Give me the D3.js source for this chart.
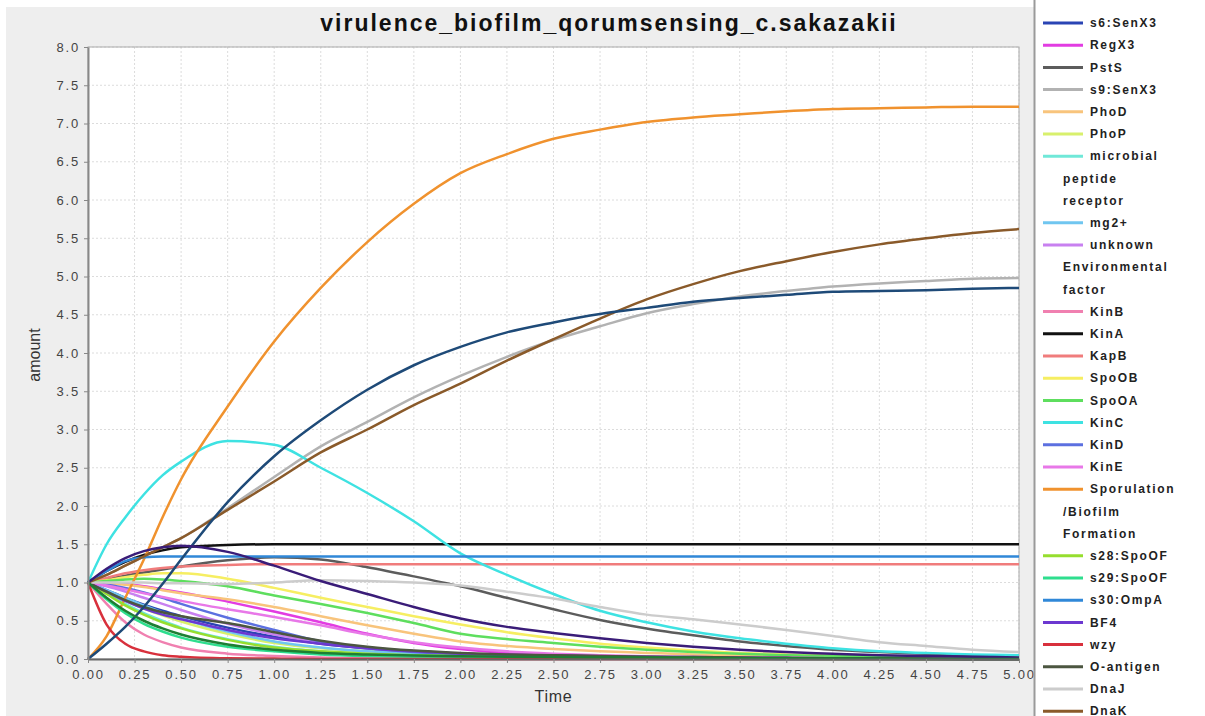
<!DOCTYPE html>
<html>
<head>
<meta charset="utf-8">
<script src="https://cdn.jsdelivr.net/npm/d3@7"></script>
<style>
  body { margin: 0; background: #ffffff; }
  text { font-family: "Liberation Sans", Arial, sans-serif; }
  .tick text { font-size: 13px; fill: #444; letter-spacing: 1.8px; }
  .legend text { font-size: 12px; font-weight: bold; fill: #222; letter-spacing: 1.7px; }
</style>
</head>
<body>
<svg id="chart" width="1205" height="716"></svg>
<script>
var width = 1205, height = 716;

// time points of the simulation output
var times = [0, 0.1, 0.2, 0.3, 0.4, 0.5, 0.75, 1.0, 1.25, 1.5, 1.75, 2.0, 2.25, 2.5, 2.75, 3.0, 3.25, 3.5, 3.75, 4.0, 4.25, 4.5, 4.75, 5.0];
var xTicks = [0, 0.25, 0.5, 0.75, 1, 1.25, 1.5, 1.75, 2, 2.25, 2.5, 2.75, 3, 3.25, 3.5, 3.75, 4, 4.25, 4.5, 4.75, 5];
var yTicks = [0, 0.5, 1, 1.5, 2, 2.5, 3, 3.5, 4, 4.5, 5, 5.5, 6, 6.5, 7, 7.5, 8];

var s6SenX3   = [1, 0.9, 0.8, 0.71, 0.63, 0.56, 0.41, 0.29, 0.2, 0.14, 0.1, 0.07, 0.05, 0.035, 0.025, 0.02, 0.015, 0.01, 0.01, 0.005, 0.005, 0, 0, 0];
var regX3     = [1, 1.0, 0.98, 0.95, 0.91, 0.87, 0.75, 0.62, 0.48, 0.33, 0.21, 0.13, 0.08, 0.05, 0.03, 0.02, 0.015, 0.01, 0.01, 0.005, 0, 0, 0, 0];
var pstS      = [1, 1.04, 1.09, 1.13, 1.17, 1.21, 1.29, 1.33, 1.3, 1.2, 1.08, 0.95, 0.8, 0.65, 0.51, 0.4, 0.31, 0.23, 0.17, 0.12, 0.09, 0.07, 0.05, 0.04];
var s9SenX3   = [1, 1.1, 1.22, 1.34, 1.46, 1.58, 1.97, 2.38, 2.78, 3.1, 3.42, 3.7, 3.95, 4.17, 4.35, 4.52, 4.64, 4.74, 4.81, 4.87, 4.91, 4.94, 4.97, 4.98];
var phoD      = [1, 0.99, 0.97, 0.94, 0.9, 0.86, 0.78, 0.68, 0.56, 0.44, 0.33, 0.23, 0.17, 0.13, 0.1, 0.08, 0.06, 0.05, 0.04, 0.03, 0.025, 0.02, 0.015, 0.01];
var phoP      = [1, 0.88, 0.76, 0.66, 0.57, 0.49, 0.33, 0.21, 0.14, 0.1, 0.08, 0.06, 0.05, 0.04, 0.03, 0.025, 0.02, 0.015, 0.01, 0.01, 0.005, 0, 0, 0];
var microbial = [1, 0.86, 0.72, 0.6, 0.5, 0.41, 0.26, 0.16, 0.1, 0.07, 0.05, 0.035, 0.025, 0.02, 0.015, 0.01, 0.01, 0.005, 0, 0, 0, 0, 0, 0];
var mg2       = [1, 0.9, 0.8, 0.7, 0.61, 0.53, 0.36, 0.23, 0.15, 0.1, 0.07, 0.05, 0.035, 0.025, 0.02, 0.015, 0.01, 0.01, 0.005, 0, 0, 0, 0, 0];
var unknownEnv = [1, 0.95, 0.88, 0.8, 0.72, 0.64, 0.46, 0.32, 0.22, 0.15, 0.1, 0.07, 0.05, 0.035, 0.025, 0.02, 0.015, 0.01, 0.005, 0, 0, 0, 0, 0];
var kinB      = [1, 0.72, 0.48, 0.32, 0.22, 0.15, 0.07, 0.04, 0.02, 0.01, 0.01, 0, 0, 0, 0, 0, 0, 0, 0, 0, 0, 0, 0, 0];
var kinA      = [1, 1.15, 1.27, 1.36, 1.42, 1.46, 1.49, 1.5, 1.5, 1.5, 1.5, 1.5, 1.5, 1.5, 1.5, 1.5, 1.5, 1.5, 1.5, 1.5, 1.5, 1.5, 1.5, 1.5];
var kapB      = [1, 1.06, 1.12, 1.16, 1.19, 1.21, 1.23, 1.24, 1.24, 1.24, 1.24, 1.24, 1.24, 1.24, 1.24, 1.24, 1.24, 1.24, 1.24, 1.24, 1.24, 1.24, 1.24, 1.24];
var spoOB     = [1, 1.03, 1.07, 1.1, 1.12, 1.12, 1.05, 0.93, 0.8, 0.68, 0.56, 0.45, 0.35, 0.27, 0.2, 0.15, 0.11, 0.08, 0.06, 0.05, 0.04, 0.03, 0.02, 0.02];
var spoOA     = [1, 1.02, 1.04, 1.05, 1.04, 1.02, 0.95, 0.83, 0.72, 0.6, 0.47, 0.33, 0.26, 0.21, 0.16, 0.12, 0.09, 0.07, 0.05, 0.04, 0.03, 0.02, 0.02, 0.01];
var kinC      = [1, 1.5, 1.85, 2.15, 2.4, 2.58, 2.85, 2.8, 2.5, 2.17, 1.8, 1.38, 1.1, 0.85, 0.63, 0.48, 0.36, 0.27, 0.2, 0.14, 0.1, 0.08, 0.06, 0.05];
var kinD      = [1, 0.97, 0.93, 0.87, 0.8, 0.72, 0.54, 0.38, 0.23, 0.14, 0.09, 0.06, 0.04, 0.03, 0.02, 0.015, 0.01, 0.005, 0, 0, 0, 0, 0, 0];
var kinE      = [1, 0.96, 0.91, 0.86, 0.81, 0.76, 0.65, 0.55, 0.44, 0.32, 0.22, 0.15, 0.1, 0.07, 0.05, 0.035, 0.025, 0.02, 0.015, 0.01, 0.005, 0, 0, 0];
var sporulation = [0, 0.3, 0.8, 1.3, 1.85, 2.35, 3.3, 4.15, 4.85, 5.45, 5.95, 6.35, 6.6, 6.8, 6.92, 7.02, 7.08, 7.12, 7.16, 7.19, 7.2, 7.21, 7.22, 7.22];
var s28SpoOF  = [1, 0.85, 0.7, 0.58, 0.48, 0.4, 0.25, 0.15, 0.1, 0.07, 0.05, 0.04, 0.03, 0.025, 0.02, 0.015, 0.01, 0.01, 0.005, 0, 0, 0, 0, 0];
var s29SpoOF  = [1, 0.78, 0.6, 0.46, 0.36, 0.28, 0.16, 0.1, 0.06, 0.04, 0.03, 0.02, 0.015, 0.01, 0.01, 0.005, 0, 0, 0, 0, 0, 0, 0, 0];
var s30OmpA   = [1, 1.15, 1.28, 1.33, 1.34, 1.34, 1.34, 1.34, 1.34, 1.34, 1.34, 1.34, 1.34, 1.34, 1.34, 1.34, 1.34, 1.34, 1.34, 1.34, 1.34, 1.34, 1.34, 1.34];
var bf4       = [1, 0.88, 0.76, 0.66, 0.58, 0.52, 0.38, 0.27, 0.2, 0.14, 0.1, 0.07, 0.055, 0.045, 0.035, 0.03, 0.025, 0.02, 0.015, 0.01, 0.01, 0.005, 0, 0];
var wzy       = [1, 0.45, 0.2, 0.1, 0.05, 0.03, 0.01, 0.005, 0, 0, 0, 0, 0, 0, 0, 0, 0, 0, 0, 0, 0, 0, 0, 0];
var oAntigen  = [1, 0.88, 0.77, 0.68, 0.61, 0.56, 0.47, 0.35, 0.24, 0.16, 0.11, 0.08, 0.06, 0.05, 0.04, 0.03, 0.025, 0.02, 0.015, 0.01, 0.01, 0.005, 0, 0];
var dnaJ      = [1, 1.0, 1.0, 1.0, 0.99, 0.99, 0.98, 1.0, 1.03, 1.02, 1.0, 0.96, 0.88, 0.79, 0.68, 0.58, 0.52, 0.45, 0.38, 0.3, 0.22, 0.17, 0.12, 0.09];
var dnaK      = [1, 1.1, 1.22, 1.34, 1.46, 1.58, 1.95, 2.32, 2.7, 3.0, 3.32, 3.6, 3.9, 4.18, 4.45, 4.7, 4.9, 5.07, 5.2, 5.32, 5.42, 5.5, 5.57, 5.62];
// series below the visible part of the legend
var extraNavy   = [0, 0.2, 0.42, 0.68, 0.98, 1.3, 2.05, 2.65, 3.12, 3.52, 3.84, 4.08, 4.27, 4.4, 4.51, 4.59, 4.67, 4.72, 4.76, 4.8, 4.81, 4.82, 4.84, 4.85];
var extraIndigo = [1, 1.18, 1.32, 1.41, 1.46, 1.48, 1.4, 1.22, 1.02, 0.85, 0.68, 0.53, 0.42, 0.34, 0.27, 0.21, 0.16, 0.12, 0.09, 0.07, 0.05, 0.04, 0.03, 0.02];
var extraGreen  = [1, 0.8, 0.63, 0.5, 0.4, 0.32, 0.19, 0.12, 0.08, 0.06, 0.045, 0.035, 0.03, 0.025, 0.02, 0.02, 0.015, 0.01, 0.01, 0.005, 0.005, 0, 0, 0];

var seriesNames = ["s6:SenX3", "RegX3", "PstS", "s9:SenX3", "PhoD", "PhoP", "microbial\npeptide\nreceptor", "mg2+",
    "unknown\nEnvironmental\nfactor", "KinB", "KinA", "KapB", "SpoOB", "SpoOA", "KinC", "KinD", "KinE",
    "Sporulation\n/Biofilm\nFormation", "s28:SpoOF", "s29:SpoOF", "s30:OmpA", "BF4", "wzy", "O-antigen", "DnaJ", "DnaK",
    null, null, null];
var seriesColors = ["#2a44b4", "#e23ce2", "#5c5c5c", "#b2b2b2", "#f8c47c", "#d8f06c", "#70e8d8", "#70c6f0",
    "#c880f0", "#f080b0", "#111111", "#f07c7c", "#f6ee62", "#5ede5e", "#3ee2e2", "#5c70e0", "#e878e8",
    "#f0922e", "#96de2e", "#2ede8e", "#3088d8", "#6c38d0", "#d8303c", "#4c5640", "#cccccc", "#8a5a2a",
    "#1e4a78", "#3a1c78", "#1e7e34"];
var seriesValues = [s6SenX3, regX3, pstS, s9SenX3, phoD, phoP, microbial, mg2, unknownEnv, kinB, kinA, kapB,
    spoOB, spoOA, kinC, kinD, kinE, sporulation, s28SpoOF, s29SpoOF, s30OmpA, bf4, wzy, oAntigen, dnaJ, dnaK,
    extraNavy, extraIndigo, extraGreen];

var svg = d3.select("#chart");

// panel backgrounds
svg.append("rect").attr("x", 0).attr("y", 0).attr("width", width).attr("height", height).attr("fill", "#ffffff");
svg.append("rect").attr("x", 6).attr("y", 7).attr("width", 1028).attr("height", height - 7).attr("fill", "#eeeeee");

var plotLeft = 88, plotRight = 1019, plotTop = 47, plotBottom = 659;

var xScale = d3.scaleLinear().domain([0, 5]).range([plotLeft, plotRight]);
var yScale = d3.scaleLinear().domain([0, 8]).range([plotBottom, plotTop]);

svg.append("rect")
    .attr("x", plotLeft).attr("y", plotTop)
    .attr("width", plotRight - plotLeft).attr("height", plotBottom - plotTop)
    .attr("fill", "#ffffff");

// grid
svg.append("g")
    .selectAll("line")
    .data(xTicks.slice(1))
    .enter()
    .append("line")
    .attr("x1", function (d) { return xScale(d); })
    .attr("x2", function (d) { return xScale(d); })
    .attr("y1", plotTop).attr("y2", plotBottom)
    .attr("stroke", "#dcdcdc").attr("stroke-dasharray", "2,2");

svg.append("g")
    .selectAll("line")
    .data(yTicks.slice(1))
    .enter()
    .append("line")
    .attr("x1", plotLeft).attr("x2", plotRight)
    .attr("y1", function (d) { return yScale(d); })
    .attr("y2", function (d) { return yScale(d); })
    .attr("stroke", "#dcdcdc").attr("stroke-dasharray", "2,2");

// plot border
svg.append("rect")
    .attr("x", plotLeft).attr("y", plotTop)
    .attr("width", plotRight - plotLeft).attr("height", plotBottom - plotTop)
    .attr("fill", "none").attr("stroke", "#aaaaaa");

// curves
var line = d3.line()
    .x(function (d) { return xScale(d[0]); })
    .y(function (d) { return yScale(d[1]); })
    .curve(d3.curveMonotoneX);

var series = seriesValues.map(function (vals, i) {
    return { name: seriesNames[i], color: seriesColors[i], points: times.map(function (t, j) { return [t, vals[j]]; }) };
});

svg.append("g")
    .selectAll("path")
    .data(series)
    .enter()
    .append("path")
    .attr("d", function (d) { return line(d.points); })
    .attr("fill", "none")
    .attr("stroke", function (d) { return d.color; })
    .attr("stroke-width", 2.5)
    .attr("stroke-linejoin", "round");

// axes
var xAxis = d3.axisBottom(xScale).tickValues(xTicks).tickFormat(d3.format(".2f")).tickSize(4).tickSizeOuter(0);
var yAxis = d3.axisLeft(yScale).tickValues(yTicks).tickFormat(d3.format(".1f")).tickSize(4).tickSizeOuter(0);

var gx = svg.append("g")
    .attr("transform", "translate(0," + plotBottom + ")")
    .call(xAxis);
gx.select(".domain").attr("stroke", "#666666").attr("stroke-width", 2);
gx.selectAll(".tick line").attr("stroke", "#888888");
gx.selectAll(".tick text").attr("dy", "1.0em").attr("font-size", null);

var gy = svg.append("g")
    .attr("transform", "translate(" + plotLeft + ",0)")
    .call(yAxis);
gy.select(".domain").attr("stroke", "#888888").attr("stroke-width", 2);
gy.selectAll(".tick line").attr("stroke", "#888888");
gy.selectAll(".tick text").attr("x", -8).attr("font-size", null);

svg.append("text")
    .attr("x", xScale(2.5)).attr("y", 702)
    .attr("text-anchor", "middle")
    .attr("font-size", 16).attr("fill", "#333")
    .attr("letter-spacing", 0.8)
    .text("Time");

svg.append("text")
    .attr("transform", "translate(40," + 355 + ") rotate(-90)")
    .attr("text-anchor", "middle")
    .attr("font-size", 16).attr("fill", "#333")
    .text("amount");

svg.append("text")
    .attr("x", 609).attr("y", 31)
    .attr("text-anchor", "middle")
    .attr("font-size", 23).attr("font-weight", "bold").attr("fill", "#111")
    .attr("letter-spacing", 2)
    .text("virulence_biofilm_qorumsensing_c.sakazakii");

// legend
svg.append("line")
    .attr("x1", 1034.5).attr("x2", 1034.5).attr("y1", 0).attr("y2", height)
    .attr("stroke", "#9a9a9a").attr("stroke-width", 2);

var legend = svg.append("g").attr("class", "legend");
var row = 0;
series.forEach(function (s) {
    if (!s.name) return;
    var parts = s.name.split("\n");
    var y0 = 23 + row * 22.2;
    legend.append("line")
        .attr("x1", 1043).attr("x2", 1083)
        .attr("y1", y0).attr("y2", y0)
        .attr("stroke", s.color).attr("stroke-width", 3);
    parts.forEach(function (p, k) {
        legend.append("text")
            .attr("x", k === 0 ? 1090 : 1063)
            .attr("y", y0 + k * 22.2)
            .attr("dy", "0.35em")
            .text(p);
    });
    row += parts.length;
});
</script>
</body>
</html>
